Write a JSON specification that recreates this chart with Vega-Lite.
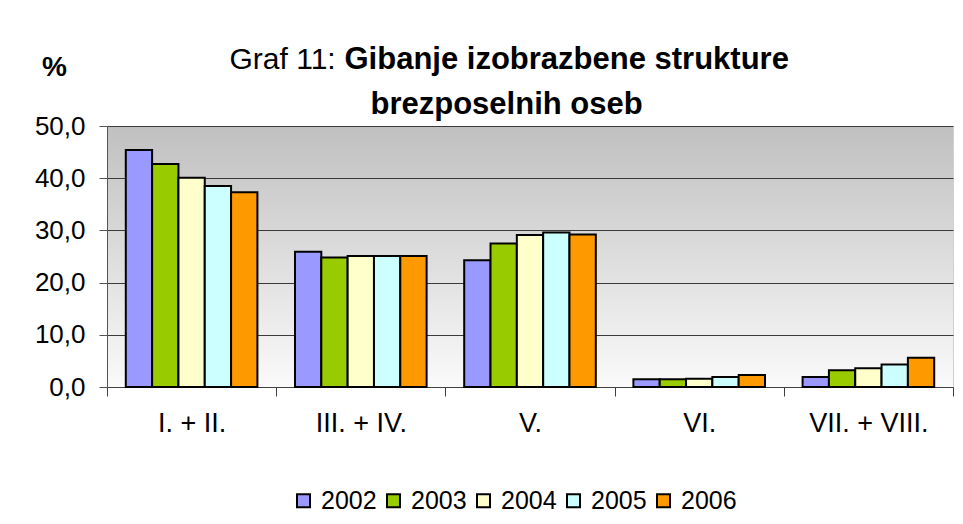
{
  "$schema": "https://vega.github.io/schema/vega-lite/v6.json",
  "width": 846,
  "height": 261,
  "autosize": {"type": "none"},
  "padding": {"left": 107, "top": 126, "right": 10, "bottom": 137},
  "background": "white",
  "data": {
    "values": [
      {"kategorija": "I. + II.", "leto": "2002", "delez": 45.4},
      {"kategorija": "I. + II.", "leto": "2003", "delez": 42.7},
      {"kategorija": "I. + II.", "leto": "2004", "delez": 40.1},
      {"kategorija": "I. + II.", "leto": "2005", "delez": 38.5},
      {"kategorija": "I. + II.", "leto": "2006", "delez": 37.3},
      {"kategorija": "III. + IV.", "leto": "2002", "delez": 25.9},
      {"kategorija": "III. + IV.", "leto": "2003", "delez": 24.8},
      {"kategorija": "III. + IV.", "leto": "2004", "delez": 25.1},
      {"kategorija": "III. + IV.", "leto": "2005", "delez": 25.1},
      {"kategorija": "III. + IV.", "leto": "2006", "delez": 25.1},
      {"kategorija": "V.", "leto": "2002", "delez": 24.3},
      {"kategorija": "V.", "leto": "2003", "delez": 27.5},
      {"kategorija": "V.", "leto": "2004", "delez": 29.1},
      {"kategorija": "V.", "leto": "2005", "delez": 29.6},
      {"kategorija": "V.", "leto": "2006", "delez": 29.2},
      {"kategorija": "VI.", "leto": "2002", "delez": 1.5},
      {"kategorija": "VI.", "leto": "2003", "delez": 1.5},
      {"kategorija": "VI.", "leto": "2004", "delez": 1.6},
      {"kategorija": "VI.", "leto": "2005", "delez": 1.9},
      {"kategorija": "VI.", "leto": "2006", "delez": 2.3},
      {"kategorija": "VII. + VIII.", "leto": "2002", "delez": 1.9},
      {"kategorija": "VII. + VIII.", "leto": "2003", "delez": 3.2},
      {"kategorija": "VII. + VIII.", "leto": "2004", "delez": 3.6},
      {"kategorija": "VII. + VIII.", "leto": "2005", "delez": 4.3},
      {"kategorija": "VII. + VIII.", "leto": "2006", "delez": 5.6}
    ]
  },
  "layer": [
    {
      "mark": {"type": "bar", "stroke": "#000000", "strokeWidth": 2},
      "encoding": {
        "x": {
          "field": "kategorija",
          "type": "nominal",
          "sort": null,
          "scale": {"paddingInner": 0, "paddingOuter": 0},
          "axis": {
            "orient": "bottom",
            "labelAngle": 0,
            "labelFontSize": 27,
            "labelPadding": 14,
            "tickBand": "extent",
            "tickSize": 9,
            "ticks": true,
            "tickColor": "#404040",
            "domainColor": "#404040",
            "grid": false,
            "title": "brezposelnih oseb",
            "titleFontSize": 31,
            "titleFontWeight": "bold",
            "titleAlign": "left",
            "titleBaseline": "alphabetic",
            "titleX": 263,
            "titleY": -274
          }
        },
        "xOffset": {
          "field": "leto",
          "type": "nominal",
          "scale": {"paddingInner": 0, "paddingOuter": 0.714}
        },
        "y": {
          "field": "delez",
          "type": "quantitative",
          "scale": {"domain": [0, 50], "nice": false},
          "axis": {
            "orient": "left",
            "values": [0, 10, 20, 30, 40, 50],
            "format": ".1f",
            "labelFontSize": 26,
            "labelPadding": 14,
            "tickSize": 8,
            "tickColor": "#555555",
            "domainColor": "#555555",
            "grid": true,
            "gridColor": "#3a3a3a",
            "gridWidth": 1,
            "title": "%",
            "titleAngle": 0,
            "titleFontSize": 28,
            "titleFontWeight": "bold",
            "titleAlign": "center",
            "titleBaseline": "alphabetic",
            "titleX": -53,
            "titleY": -51
          }
        },
        "color": {
          "field": "leto",
          "type": "nominal",
          "scale": {
            "domain": ["2002", "2003", "2004", "2005", "2006"],
            "range": ["#9999FF", "#99CC00", "#FFFFCC", "#CCFFFF", "#FF9900"]
          },
          "legend": {
            "orient": "none",
            "direction": "horizontal",
            "legendX": 184,
            "legendY": 362,
            "title": null,
            "symbolType": "square",
            "symbolSize": 169,
            "symbolStrokeColor": "#000000",
            "symbolStrokeWidth": 2,
            "labelFontSize": 25,
            "labelOffset": 5,
            "columnPadding": 4
          }
        }
      }
    },
    {
      "mark": {"type": "bar", "opacity": 0},
      "encoding": {
        "x": {
          "field": "kategorija",
          "type": "nominal",
          "sort": null,
          "axis": {
            "orient": "top",
            "labels": false,
            "ticks": false,
            "domain": false,
            "grid": false,
            "title": "Gibanje izobrazbene strukture",
            "titleFontSize": 31,
            "titleFontWeight": "bold",
            "titleAlign": "left",
            "titleBaseline": "alphabetic",
            "titleX": 237,
            "titleY": -58
          }
        },
        "y": {
          "field": "delez",
          "type": "quantitative",
          "axis": {
            "orient": "right",
            "labels": false,
            "ticks": false,
            "domain": false,
            "grid": false,
            "title": "Graf 11:",
            "titleAngle": 0,
            "titleFontSize": 30,
            "titleFontWeight": "normal",
            "titleAlign": "left",
            "titleBaseline": "alphabetic",
            "titleX": -724,
            "titleY": -58
          }
        }
      }
    }
  ],
  "resolve": {"axis": {"x": "independent", "y": "independent"}},
  "config": {
    "font": "Liberation Sans",
    "locale": {
      "number": {"decimal": ",", "thousands": ".", "grouping": [3], "currency": ["", " €"]}
    },
    "view": {
      "stroke": "#d0d0d0",
      "fill": {
        "gradient": "linear",
        "x1": 0, "y1": 0, "x2": 0, "y2": 1,
        "stops": [
          {"offset": 0, "color": "#c0c0c0"},
          {"offset": 1, "color": "#fafafa"}
        ]
      }
    },
    "axis": {
      "labelColor": "#000000",
      "titleColor": "#000000",
      "labelFont": "Liberation Sans",
      "titleFont": "Liberation Sans"
    },
    "legend": {"labelColor": "#000000", "labelFont": "Liberation Sans"}
  }
}
